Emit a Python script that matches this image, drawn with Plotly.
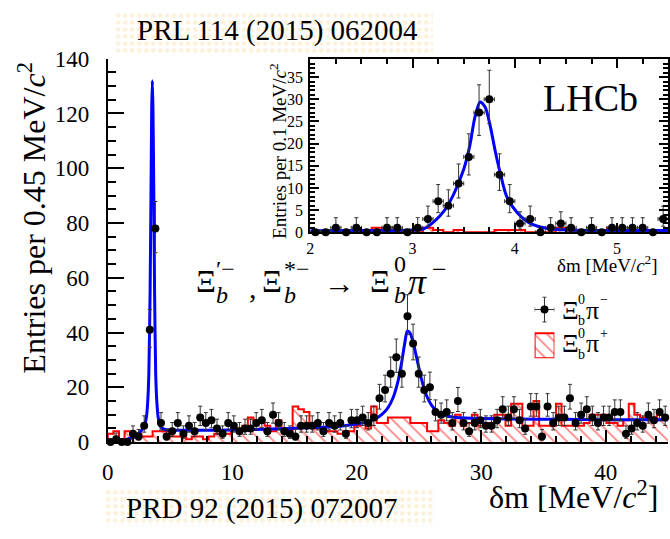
import numpy as np
import plotly.graph_objects as go

W, H = 670, 539
FONT = "Liberation Serif"

# ---------------- main plot data (bin width 0.45 MeV) ----------------
main_bin_width = 0.45
main_counts = [0, 1, 0, 0, 3, 2, 6, 41, 78, 7,
               2, 4, 7, 3, 6, 4, 9, 7, 8, 5,
               3, 7, 6, 4, 5, 5, 7, 8, 4, 10,
               7, 4, 3, 2, 6, 6, 6, 7, 4, 7,
               6, 7, 3, 8, 8, 9, 7, 9, 16, 19,
               25, 31, 25, 46, 36, 25, 19, 20, 11, 10,
               11, 7, 15, 7, 4, 7, 8, 6, 6, 8,
               12, 9, 12, 8, 5, 13, 13, 2, 13, 7,
               9, 9, 16, 7, 10, 12, 9, 7, 9, 9,
               11, 11, 3, 5, 7, 6, 10, 8, 11, 9]
main_ws = [3, 4, 1, 4, 3, 3, 2, 2, 4, 4,
           4, 2, 2, 2, 1, 2, 2, 1, 2, 3,
           3, 3, 5, 5, 6, 9, 8, 7, 6, 4,
           8, 5, 3, 13, 12, 11, 7, 5, 4, 4,
           4, 3, 4, 4, 6, 7, 5, 13, 7, 7,
           9, 9, 9, 9, 7, 7, 7, 4, 4, 8,
           7, 6, 10, 6, 7, 10, 6, 7, 6, 10,
           10, 6, 14, 14, 6, 6, 15, 6, 6, 6,
           14, 6, 6, 6, 6, 7, 10, 10, 10, 7,
           7, 6, 8, 14, 10, 9, 9, 9, 10, 9]
main_fit_x = [0.0, 1.0, 1.5, 2.0, 2.5, 2.9, 3.1, 3.2, 3.3, 3.4, 3.47, 3.53, 3.58,
              3.63, 3.7, 3.76, 3.85, 3.95, 4.05, 4.25, 4.6, 5.0, 6.0, 8.0, 10.0,
              12.0, 14.0, 16.0, 18.0, 19.0, 20.0, 20.8, 21.5, 22.0, 22.5, 22.9,
              23.3, 23.6, 23.85, 24.05, 24.25, 24.5, 24.8, 25.2, 25.6, 26.0,
              26.5, 27.0, 28.0, 30.0, 33.0, 36.0, 40.0, 45.0]
main_fit_y = [0.0, 0.3, 1.0, 1.7, 3.3, 5.5, 9, 14, 25, 55, 90, 122, 132,
              122, 90, 55, 25, 14, 9, 5.5, 4.6, 4.4, 4.3, 4.3, 4.4,
              4.6, 4.9, 5.2, 5.6, 6.0, 6.6, 7.3, 8.5, 10.0, 12.5, 16.0,
              22.0, 29.0, 36.0, 40.5, 40.0, 37.0, 31.0, 23.0, 17.0, 13.5,
              11.0, 9.8, 9.0, 8.6, 8.4, 8.3, 8.2, 8.2]

# ---------------- inset data (bin width 0.1 MeV) ----------------
ins_bin_width = 0.1
ins_start = 2.0
ins_counts = [0, 0, 1, 0, 1, 0, 0, 1, 1, 0,
              1, 3, 7, 6, 11, 17, 27, 30, 13, 7,
              2, 3, 0, 1, 2, 1, 0, 1, 0, 1,
              1, 1, 1, 0, 3]
ins_ws = [0, 0, 0, 0, 0, 0, 1, 0, 0, 0,
          0, 1, 0.5, 0, 0.5, 0, 0, 0, 0.5, 0.5,
          0.5, 0, 0, 0, 1, 0, 0, 0, 0, 1,
          0, 0, 0, 0, 0]
ins_fit_x = [2.0, 2.5, 3.0, 3.11, 3.21, 3.31, 3.40, 3.50, 3.56, 3.61, 3.66, 3.71,
             3.76, 3.81, 3.86, 3.92, 4.02, 4.15, 4.31, 4.51, 5.0, 5.5]
ins_fit_y = [0.35, 0.4, 0.5, 0.8, 2.4, 4.9, 8.5, 14.2, 19.6, 26.0, 29.4, 28.2,
             23.9, 18.1, 13.1, 8.1, 4.5, 2.0, 0.9, 0.5, 0.4, 0.4]


def garwood(counts):
    """68% Poisson intervals (Wilson-Hilferty approximation)."""
    up, lo = [], []
    for n in counts:
        if n <= 0:
            up.append(0.0); lo.append(0.0); continue
        k = 2 * n + 2
        u = 0.5 * k * (1 - 2 / (9 * k) + np.sqrt(2 / (9 * k))) ** 3
        k = 2 * n
        l = 0.5 * k * (1 - 2 / (9 * k) - np.sqrt(2 / (9 * k))) ** 3
        up.append(u - n); lo.append(n - l)
    return up, lo


main_centers = [main_bin_width * (i + 0.5) for i in range(len(main_counts))]
main_edges = [main_bin_width * i for i in range(len(main_counts) + 1)]
ins_centers = [ins_start + ins_bin_width * (i + 0.5) for i in range(len(ins_counts))]
ins_edges = [ins_start + ins_bin_width * i for i in range(len(ins_counts) + 1)]

m_up, m_lo = garwood(main_counts)
i_up, i_lo = garwood(ins_counts)

fig = go.Figure()

PAT = dict(shape="\\", fgcolor="red", bgcolor="rgba(0,0,0,0)", size=9, solidity=0.18,
           fillmode="overlay")
DOTS = dict(shape=".", fgcolor="#fbe2b4", bgcolor="white", size=7, solidity=0.35)

# ---- dotted publication-label backgrounds ----
for ax in ("6", "7"):
    fig.add_trace(go.Bar(x=[0], y=[1], width=[1],
                         marker=dict(color="white", line=dict(width=0), pattern=DOTS),
                         xaxis="x" + ax, yaxis="y" + ax, showlegend=False, hoverinfo="skip"))

# ---- main ----
fig.add_trace(go.Bar(x=main_centers, y=main_ws, width=main_bin_width,
                     marker=dict(color="rgba(0,0,0,0)", line=dict(width=0), pattern=PAT),
                     xaxis="x", yaxis="y", showlegend=False, hoverinfo="skip"))
fig.add_trace(go.Scatter(x=[main_edges[0]] + main_edges[:-1] + [main_edges[-1]],
                         y=[0] + main_ws + [main_ws[-1]], mode="lines",
                         line=dict(color="red", width=2, shape="hv"),
                         xaxis="x", yaxis="y", showlegend=False))
fig.add_trace(go.Scatter(x=main_fit_x, y=main_fit_y, mode="lines",
                         line=dict(color="#0000ff", width=3, shape="spline", smoothing=0.6),
                         xaxis="x", yaxis="y", showlegend=False))
fig.add_trace(go.Scatter(x=main_centers, y=main_counts, mode="markers",
                         marker=dict(color="black", size=8),
                         error_y=dict(type="data", array=m_up, arrayminus=m_lo, symmetric=False,
                                      color="#333", thickness=1, width=2),
                         error_x=dict(type="constant", value=main_bin_width / 2, color="#333",
                                      thickness=1, width=0),
                         cliponaxis=False, xaxis="x", yaxis="y", showlegend=False))

# ---- inset ----
fig.add_trace(go.Bar(x=ins_centers, y=ins_ws, width=ins_bin_width,
                     marker=dict(color="rgba(0,0,0,0)", line=dict(width=0), pattern=PAT),
                     xaxis="x2", yaxis="y2", showlegend=False, hoverinfo="skip"))
fig.add_trace(go.Scatter(x=[ins_edges[0]] + ins_edges[:-1] + [ins_edges[-1]],
                         y=[0] + ins_ws + [ins_ws[-1]], mode="lines",
                         line=dict(color="red", width=2, shape="hv"),
                         xaxis="x2", yaxis="y2", showlegend=False))
fig.add_trace(go.Scatter(x=ins_fit_x, y=ins_fit_y, mode="lines",
                         line=dict(color="#0000ff", width=3, shape="spline", smoothing=0.8),
                         xaxis="x2", yaxis="y2", showlegend=False))
fig.add_trace(go.Scatter(x=ins_centers, y=ins_counts, mode="markers",
                         marker=dict(color="black", size=8),
                         error_y=dict(type="data", array=i_up, arrayminus=i_lo, symmetric=False,
                                      color="#333", thickness=1, width=2),
                         error_x=dict(type="constant", value=ins_bin_width / 2, color="#333",
                                      thickness=1, width=2),
                         cliponaxis=False, xaxis="x2", yaxis="y2", showlegend=False))

# ---- legend symbols (own small axes) ----
fig.add_trace(go.Bar(x=[0], y=[26], width=[1],
                     marker=dict(color="rgba(0,0,0,0)", line=dict(color="red", width=2), pattern=PAT),
                     xaxis="x5", yaxis="y5", showlegend=False, hoverinfo="skip"))
fig.add_trace(go.Scatter(x=[0], y=[51], mode="markers", marker=dict(color="black", size=8),
                         error_y=dict(type="constant", value=13, color="#333", thickness=1, width=2),
                         error_x=dict(type="constant", value=0.5, color="#333", thickness=1, width=2),
                         cliponaxis=False, xaxis="x5", yaxis="y5", showlegend=False))


def px(x0, x1):
    return [x0 / W, min(x1 / W, 1.0)]


def py(y_bottom, y_top):
    return [max((H - y_bottom) / H, 0.0), min((H - y_top) / H, 1.0)]


tickfont_main = dict(family=FONT, size=23, color="black")
tickfont_ins = dict(family=FONT, size=16, color="black")

main_xr = [0, (W - 103) / 12.6]
hidden = dict(range=[-0.5, 0.5], visible=False, fixedrange=True)
fig.update_layout(
    width=W, height=H, margin=dict(l=0, r=0, t=0, b=0),
    paper_bgcolor="white", plot_bgcolor="rgba(0,0,0,0)",
    bargap=0, barmode="overlay",
    xaxis=dict(domain=px(103, W), range=main_xr, showgrid=False, zeroline=False,
               showline=True, linecolor="black", linewidth=2,
               ticks="inside", ticklen=12, tickwidth=2, tickcolor="black",
               tickmode="array", tickvals=[0, 10, 20, 30, 40],
               minor=dict(dtick=2, ticks="inside", ticklen=6, tickwidth=2, tickcolor="black"),
               tickfont=tickfont_main, ticklabelstandoff=8, anchor="y"),
    yaxis=dict(domain=py(451, 49), range=[0, 140], showgrid=False, zeroline=False,
               showline=True, linecolor="black", linewidth=2,
               ticks="inside", ticklen=16, tickwidth=2, tickcolor="black",
               dtick=20, minor=dict(dtick=5, ticks="inside", ticklen=8, tickwidth=2, tickcolor="black"),
               tickfont=tickfont_main, ticklabelstandoff=12, anchor="x"),
    xaxis3=dict(overlaying="x", side="top", anchor="y", range=main_xr, showgrid=False,
                zeroline=False, showline=True, linecolor="black", linewidth=2,
                ticks="inside", ticklen=12, tickwidth=2, tickcolor="black",
                tickmode="array", tickvals=[0, 10], showticklabels=False,
                minor=dict(tickmode="array", tickvals=[2, 4, 6, 8, 12], ticks="inside",
                           ticklen=6, tickwidth=2, tickcolor="black")),
    yaxis3=dict(overlaying="y", side="right", anchor="x", range=[0, 140], showgrid=False,
                zeroline=False, showline=False,
                ticks="inside", ticklen=16, tickwidth=2, tickcolor="black",
                tickmode="array", tickvals=[0, 20, 40, 60], showticklabels=False,
                minor=dict(tickmode="array", tickvals=[5, 10, 15, 25, 30, 35, 45, 50, 55],
                           ticks="inside", ticklen=8, tickwidth=2, tickcolor="black")),
    xaxis2=dict(domain=px(308, W), range=[2, 2 + (W - 308) / 103.5], showgrid=False,
                zeroline=False, showline=True, linecolor="black", linewidth=2, mirror="allticks",
                ticks="inside", ticklen=9, tickwidth=1.5, tickcolor="black", dtick=1,
                minor=dict(dtick=0.25, ticks="inside", ticklen=5, tickwidth=1.5, tickcolor="black"),
                tickfont=tickfont_ins, ticklabelstandoff=1, anchor="y2"),
    yaxis2=dict(domain=py(231, 49), range=[0, 182 / 4.65], showgrid=False, zeroline=False,
                showline=True, linecolor="black", linewidth=2, mirror="allticks",
                ticks="inside", ticklen=9, tickwidth=1.5, tickcolor="black", dtick=5,
                minor=dict(dtick=1, ticks="inside", ticklen=5, tickwidth=1.5, tickcolor="black"),
                tickfont=tickfont_ins, ticklabelstandoff=2, anchor="x2"),
    xaxis5=dict(domain=px(535, 555), range=[-0.5, 0.5], visible=False, anchor="y5"),
    yaxis5=dict(domain=py(363, 298), range=[0, 65], visible=False, anchor="x5"),
    xaxis6=dict(domain=px(110, 432), anchor="y6", **hidden),
    yaxis6=dict(domain=py(44, 0), range=[0, 1], visible=False, anchor="x6"),
    xaxis7=dict(domain=px(100, 433), anchor="y7", **hidden),
    yaxis7=dict(domain=py(539, 500), range=[0, 1], visible=False, anchor="x7"),
)

annotations = []


def txt(x, y, s, size, xanchor="left", italic=False, angle=0, yanchor="middle"):
    annotations.append(dict(
        x=x / W, y=1 - y / H, xref="paper", yref="paper", text=s, showarrow=False,
        xanchor=xanchor, yanchor=yanchor, textangle=angle,
        font=dict(family=FONT, size=size, color="black", style="italic" if italic else "normal")))


# axis titles
txt(662, 507, "δm [MeV/<i>c</i><sup>2</sup>]", 32, xanchor="right")
txt(26, 216, "Entries per 0.45 MeV/<i>c</i><sup>2</sup>", 32, xanchor="center", angle=-90)
txt(662, 264, "δm [MeV/<i>c</i><sup>2</sup>]", 19, xanchor="right")
txt(276, 146, "Entries per 0.1 MeV/<i>c</i><sup>2</sup>", 19, xanchor="center", angle=-90)
# LHCb
txt(592, 90, "LHCb", 38, xanchor="center")
# publication labels
txt(275, 19, "PRL 114 (2015) 062004", 29, xanchor="center")
txt(259, 521, "PRD 92 (2015) 072007", 29, xanchor="center")

# decay label
txt(190, 283, "Ξ", 31)
txt(211, 270, "′−", 24)
txt(211, 297, "b", 24, italic=True)
txt(244, 289, ",", 30)
txt(257, 283, "Ξ", 31)
txt(279, 269, "*−", 24)
txt(279, 297, "b", 24, italic=True)
txt(320, 285, "→", 31)
txt(366, 283, "Ξ", 31)
txt(391, 264, "0", 24)
txt(391, 297, "b", 24, italic=True)
txt(405, 283, "π", 36, italic=True)
txt(429, 270, "−", 26)

# legend text
for yc, ch in ((313, "−"), (348, "+")):
    txt(561, yc, "Ξ", 26)
    txt(577, yc - 11, "0", 14)
    txt(577, yc + 11, "b", 14)
    txt(585, yc, "π", 26)
    txt(599, yc - 11, ch, 14)

fig.update_layout(annotations=annotations)

fig.write_html("out.html")
